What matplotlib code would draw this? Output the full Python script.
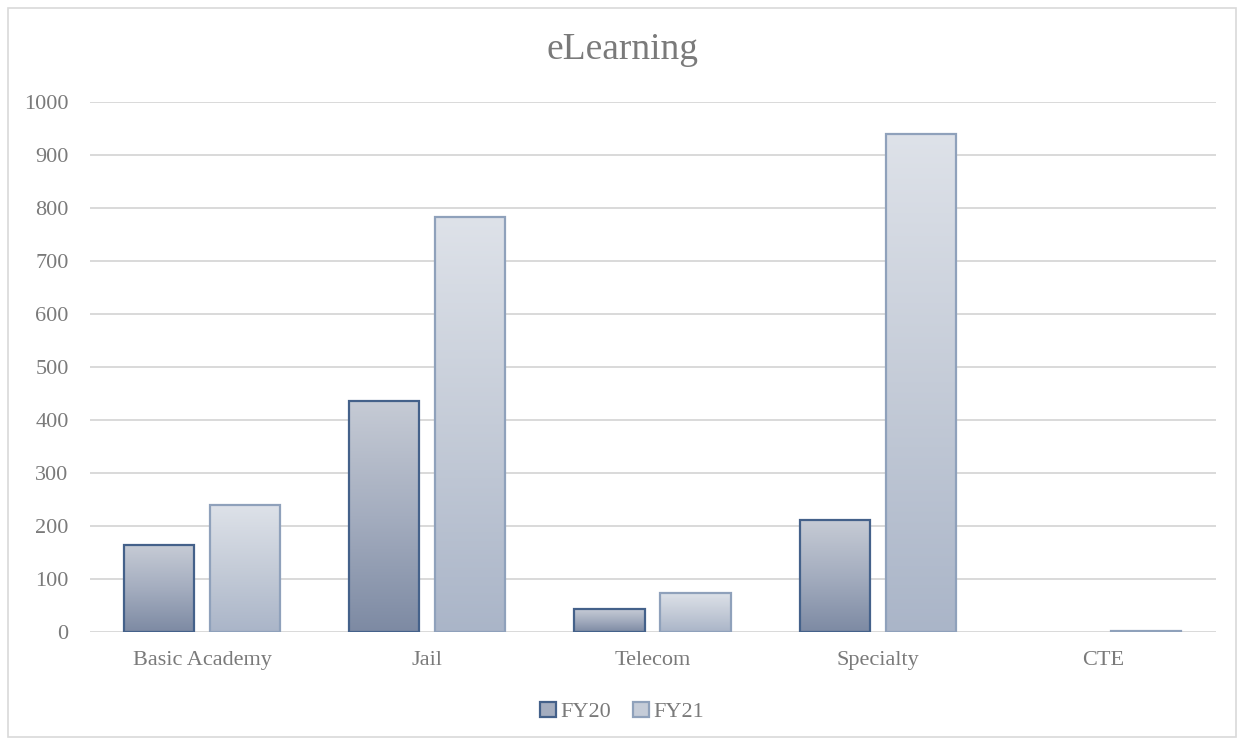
import numpy as np
import matplotlib
matplotlib.use("Agg")
import matplotlib.pyplot as plt
from matplotlib.colors import LinearSegmentedColormap
from matplotlib.patches import Rectangle, Patch

categories = ["Basic Academy", "Jail", "Telecom", "Specialty", "CTE"]
fy20 = [164, 436, 43, 211, 0]
fy21 = [240, 783, 74, 940, 2]
series_names = ["FY20", "FY21"]

plt.rcParams['font.family'] = ['Liberation Serif', 'DejaVu Serif']
text_col = '#7a7a7a'

fig = plt.figure(figsize=(12.44, 7.45), dpi=100)
ax = fig.add_axes([89.5 / 1244, 1 - 632 / 745, 1126 / 1244, 530 / 745])

# gradient colour maps (bottom -> top)
cmaps = [
    LinearSegmentedColormap.from_list('fy20', ['#7d8aa3', '#a4adbf', '#c6cbd5']),
    LinearSegmentedColormap.from_list('fy21', ['#aab5c8', '#c5ccd8', '#dee2e9']),
]
edges = ['#44618a', '#8fa1bb']

x = np.arange(len(categories))
w = 0.311
offs = [-0.191, 0.191]
grad = np.linspace(0, 1, 256).reshape(-1, 1)

for vals, off, cm, ec in zip([fy20, fy21], offs, cmaps, edges):
    lws = [1.6 if v > 0 else 0 for v in vals]
    bars = ax.bar(x + off, vals, width=w, facecolor='none', edgecolor=ec,
                  linewidth=lws, zorder=3)
    for b, v in zip(bars, vals):
        if v <= 0:
            continue
        x0 = b.get_x()
        im = ax.imshow(grad, cmap=cm, origin='lower', aspect='auto',
                       extent=(x0, x0 + w, 0, v), zorder=2)
        im.set_clip_path(b)

ax.set_xlim(-0.5, 4.5)
ax.set_ylim(0, 1000)
ax.set_yticks(np.arange(0, 1001, 100))
ax.set_xticks(x)
ax.set_xticklabels(categories)
ax.grid(axis='y', color='#d9d9d9', linewidth=1.4, zorder=0)
ax.set_axisbelow(True)
for s in ax.spines.values():
    s.set_visible(False)
ax.tick_params(length=0, labelsize=16, labelcolor=text_col, pad=14)
ax.tick_params(axis='y', pad=15)

fig.text(0.5, 1 - 50 / 745, 'eLearning', ha='center', va='center',
         fontsize=27, color=text_col)

handles = [Patch(facecolor='#a4adbf', edgecolor=edges[0], linewidth=1.6),
           Patch(facecolor='#c5ccd8', edgecolor=edges[1], linewidth=1.6)]
fig.legend(handles, series_names, loc='center', bbox_to_anchor=(0.5, 1 - 712 / 745),
           ncol=2, frameon=False, fontsize=16, labelcolor=text_col,
           handlelength=0.7, handleheight=0.7, handletextpad=0.2, columnspacing=1.0)

fig.patches.append(Rectangle((8 / 1244, 8 / 745), 1228 / 1244, 729 / 745,
                             transform=fig.transFigure, fill=False,
                             edgecolor='#d9d9d9', linewidth=1.2))

fig.savefig('out.png', dpi=100, facecolor='white')
